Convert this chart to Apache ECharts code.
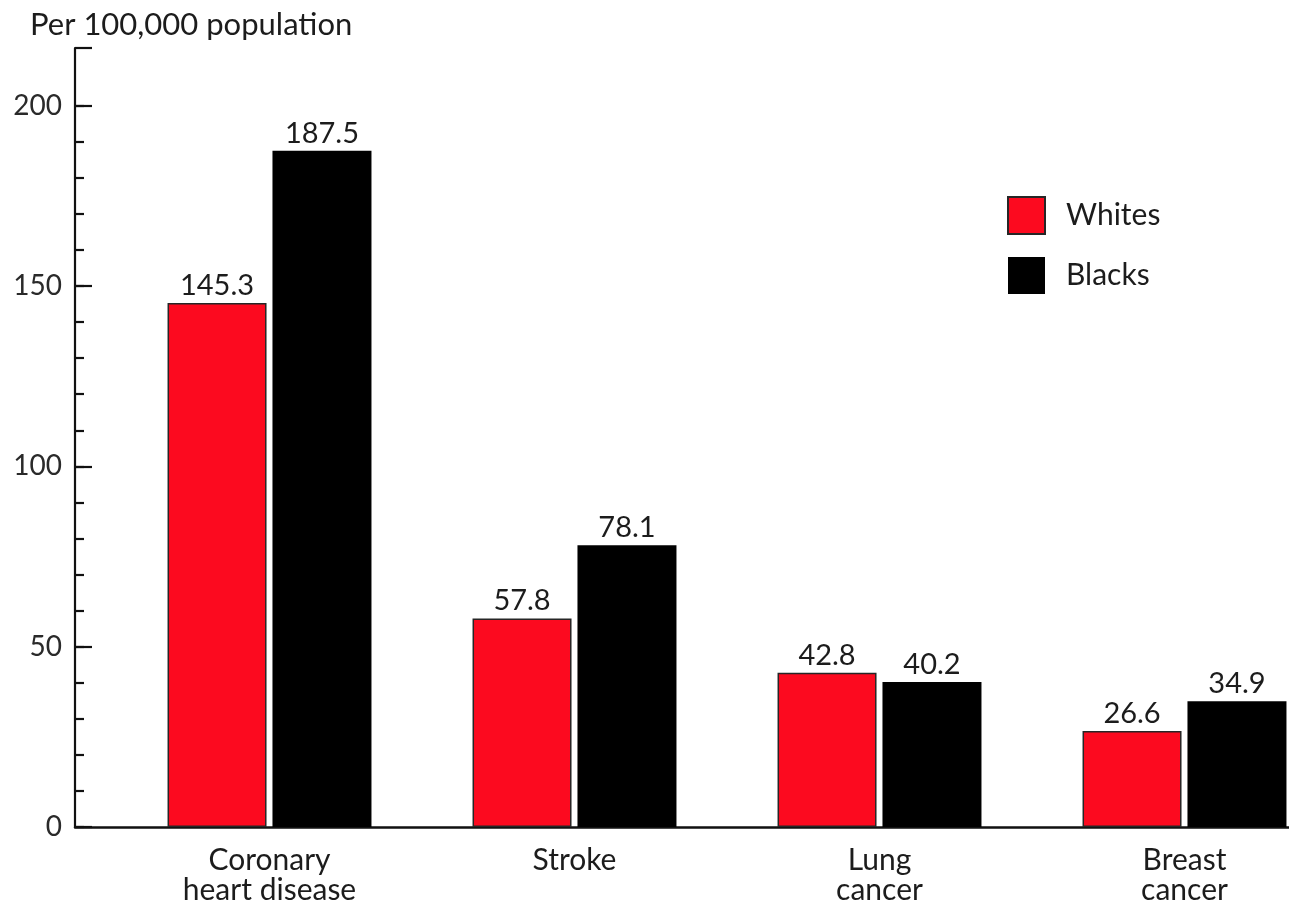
<!DOCTYPE html>
<html>
<head>
<meta charset="utf-8">
<script src="https://cdn.jsdelivr.net/npm/echarts@6/dist/echarts.min.js"></script>
<style>
  html, body { margin: 0; padding: 0; background: #fff; }
  #chart { width: 1289px; height: 906px; }
</style>
</head>
<body>
<div id="chart"></div>
<script>
// Death rates by cause, whites vs. blacks
const categories = ['Coronary\nheart disease', 'Stroke', 'Lung\ncancer', 'Breast\ncancer'];
const whites = [145.3, 57.8, 42.8, 26.6];
const blacks = [187.5, 78.1, 40.2, 34.9];
const seriesNames = ['Whites', 'Blacks'];
const yTicks = [0, 50, 100, 150, 200];
const yTitle = 'Per 100,000 population';

const FONT = 'Lato, "Open Sans", sans-serif';
const TEXT = '#1c1c1c';
const AXIS = '#111';
const RED = '#fc0a1f';
const Y_MAX = 216;            // axis runs a little above the last labelled tick
const TOP = 48, BOTTOM = 79;
const PLOT_H = 906 - TOP - BOTTOM;
const lastTick = yTicks[yTicks.length - 1];
const minorTop = TOP + PLOT_H * (Y_MAX - lastTick) / Y_MAX;

const chart = echarts.init(document.getElementById('chart'), null, { renderer: 'canvas' });

const option = {
  animation: false,
  backgroundColor: '#fff',
  textStyle: { fontFamily: FONT },
  title: {
    text: yTitle,
    left: 25, top: 4,
    textStyle: { fontFamily: FONT, fontSize: 31, fontWeight: 'normal', color: TEXT }
  },
  legend: {
    data: seriesNames,
    orient: 'vertical',
    left: 1007, top: 196, padding: 0,
    itemWidth: 37, itemHeight: 37, itemGap: 22,
    icon: 'rect',
    textStyle: { fontFamily: FONT, fontSize: 30, color: TEXT, padding: [0, 0, 0, 16] }
  },
  grid: [
    // frame: y axis with major ticks + baseline
    { left: 75, right: 0, top: TOP, bottom: BOTTOM, outerBoundsMode: 'none' },
    // bars
    { left: 117, width: 1220, top: TOP, bottom: BOTTOM, outerBoundsMode: 'none' },
    // minor ticks up to the last labelled value
    { left: 75, right: 0, top: minorTop, bottom: BOTTOM, outerBoundsMode: 'none' }
  ],
  xAxis: [
    {
      gridIndex: 0, type: 'value', min: 0, max: 1,
      axisLine: { show: true, onZero: false, lineStyle: { color: AXIS, width: 2.5 } },
      axisTick: { show: false }, axisLabel: { show: false }, splitLine: { show: false }
    },
    {
      gridIndex: 1, type: 'category', data: categories,
      axisLine: { show: false }, axisTick: { show: false },
      axisLabel: {
        fontFamily: FONT, fontSize: 30, color: TEXT, lineHeight: 30, margin: 18,
        align: 'center'
      }
    },
    {
      gridIndex: 2, type: 'value', min: 0, max: 1, show: false
    }
  ],
  yAxis: [
    {
      gridIndex: 0, type: 'value', min: 0, max: Y_MAX, interval: 50,
      axisLine: { show: true, lineStyle: { color: AXIS, width: 2.2 } },
      axisTick: { show: true, inside: true, length: 17, lineStyle: { color: AXIS, width: 2.2 } },
      axisLabel: {
        fontFamily: FONT, fontSize: 28, color: '#2a2a2a', margin: 13,
        formatter: v => (yTicks.includes(v) ? String(v) : '')
      },
      splitLine: { show: false }
    },
    {
      gridIndex: 1, type: 'value', min: 0, max: Y_MAX, show: false
    },
    {
      gridIndex: 2, type: 'value', min: 0, max: lastTick, interval: 10,
      axisLine: { show: false },
      axisTick: { show: true, inside: true, length: 9, lineStyle: { color: AXIS, width: 2.2 } },
      axisLabel: { show: false },
      splitLine: { show: false }
    }
  ],
  series: [
    {
      name: seriesNames[0], type: 'bar', xAxisIndex: 1, yAxisIndex: 1,
      data: whites, barWidth: 99, barGap: '6%',
      itemStyle: { color: RED, borderColor: '#262626', borderWidth: 1.5 },
      label: {
        show: true, position: 'top', distance: 3,
        fontFamily: FONT, fontSize: 29, color: TEXT,
        formatter: p => p.value.toFixed(1)
      }
    },
    {
      name: seriesNames[1], type: 'bar', xAxisIndex: 1, yAxisIndex: 1,
      data: blacks, barWidth: 99, barGap: '6%',
      itemStyle: { color: '#000' },
      label: {
        show: true, position: 'top', distance: 3,
        fontFamily: FONT, fontSize: 29, color: TEXT,
        formatter: p => p.value.toFixed(1)
      }
    }
  ]
};

chart.setOption(option);
</script>
</body>
</html>
